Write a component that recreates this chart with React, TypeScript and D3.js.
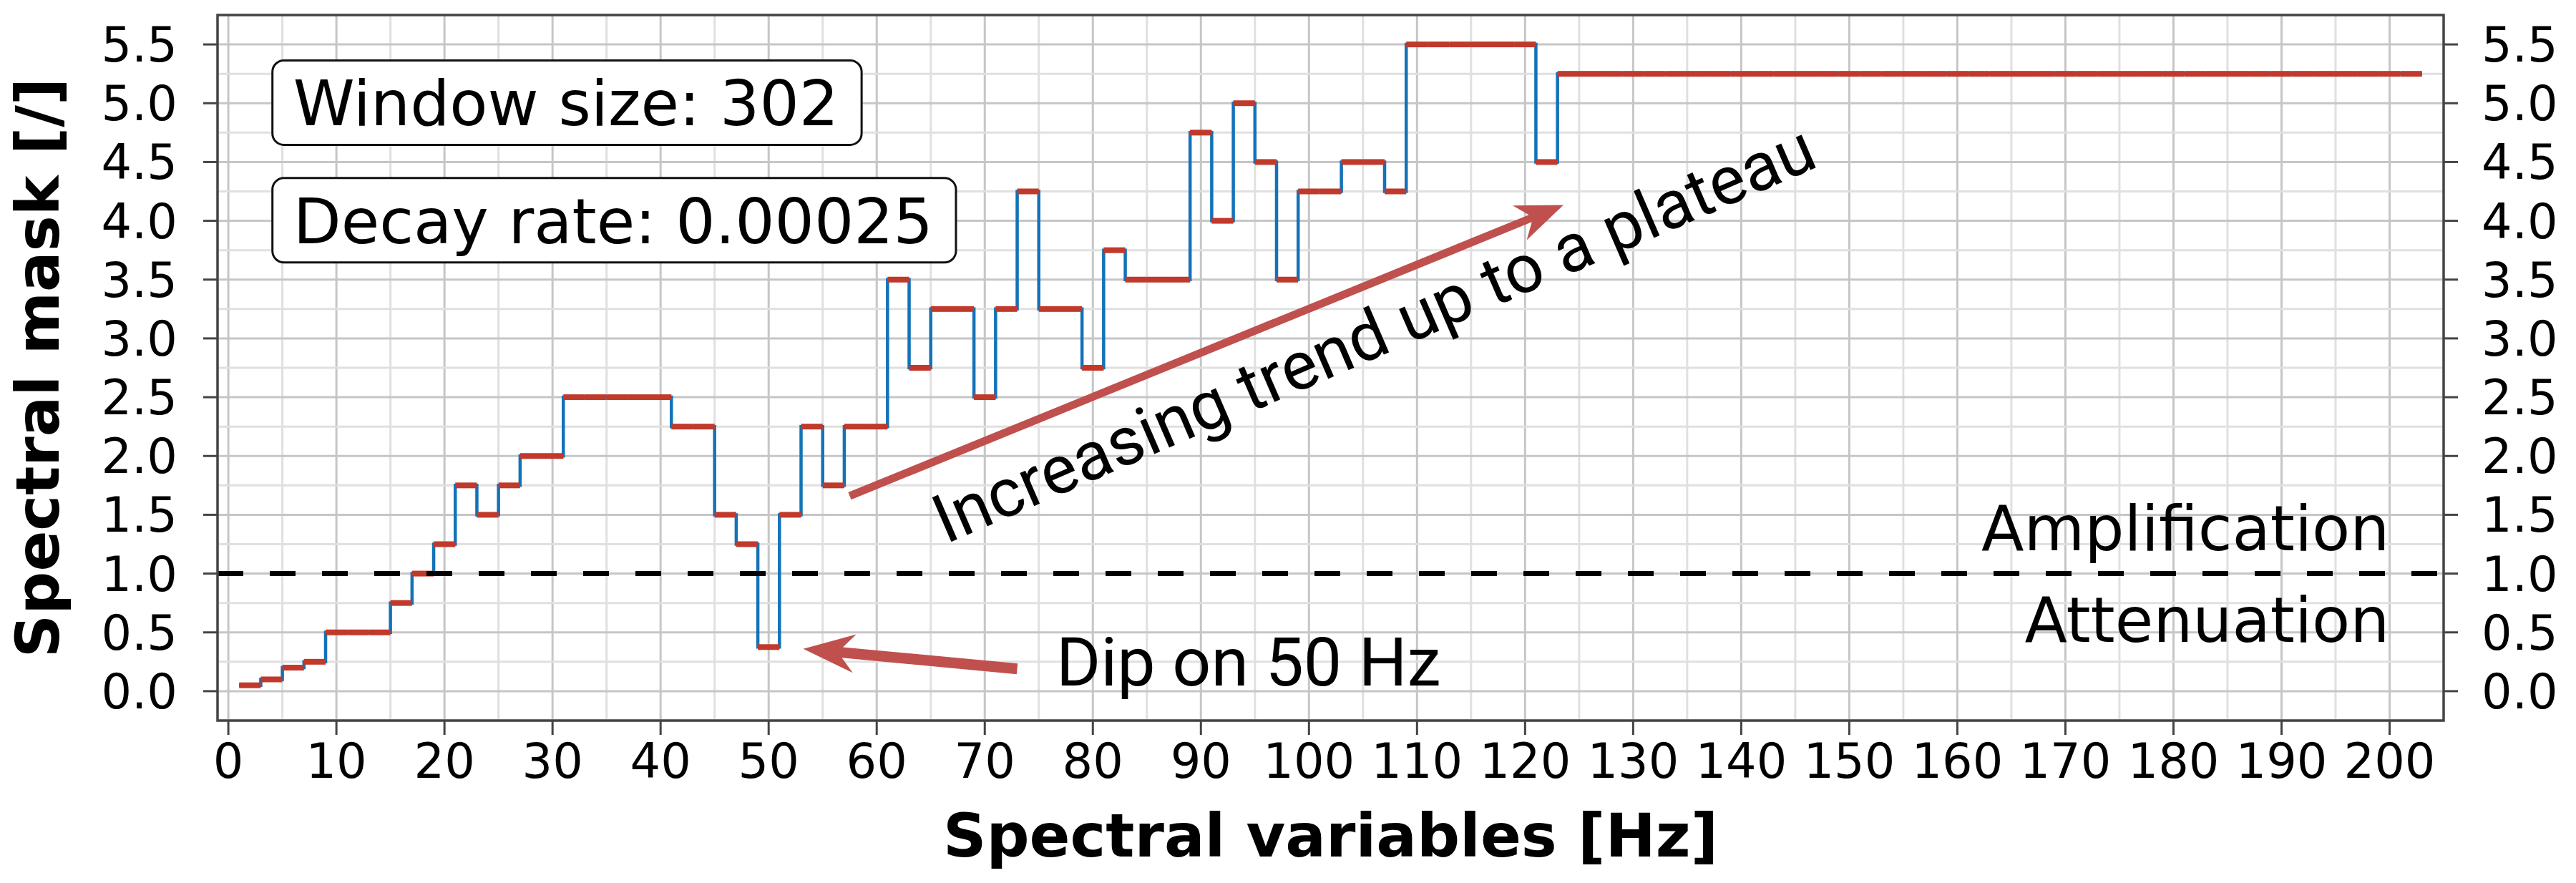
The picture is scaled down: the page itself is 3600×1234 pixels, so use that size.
import React, { useEffect, useRef } from "react";
import * as d3 from "d3";

const WIDTH = 3600;
const HEIGHT = 1234;

// spectral mask per 2 Hz bin, bins centred on 2, 4, ... 202 Hz
const maskValues = [
  0.05, 0.1, 0.2, 0.25, 0.5, 0.5, 0.5, 0.75, 1.0, 1.25,
  1.75, 1.5, 1.75, 2.0, 2.0, 2.5, 2.5, 2.5, 2.5, 2.5,
  2.25, 2.25, 1.5, 1.25, 0.375, 1.5, 2.25, 1.75, 2.25, 2.25,
  3.5, 2.75, 3.25, 3.25, 2.5, 3.25, 4.25, 3.25, 3.25, 2.75,
  3.75, 3.5, 3.5, 3.5, 4.75, 4.0, 5.0, 4.5, 3.5, 4.25,
  4.25, 4.5, 4.5, 4.25, 5.5, 5.5, 5.5, 5.5, 5.5, 5.5,
  4.5, 5.25, 5.25, 5.25, 5.25, 5.25, 5.25, 5.25, 5.25, 5.25,
  5.25, 5.25, 5.25, 5.25, 5.25, 5.25, 5.25, 5.25, 5.25, 5.25,
  5.25, 5.25, 5.25, 5.25, 5.25, 5.25, 5.25, 5.25, 5.25, 5.25,
  5.25, 5.25, 5.25, 5.25, 5.25, 5.25, 5.25, 5.25, 5.25, 5.25,
  5.25
];
const binWidth = 2;
const binCenters = maskValues.map((_, i) => 2 + i * binWidth);

const xTicks = [0, 10, 20, 30, 40, 50, 60, 70, 80, 90, 100, 110, 120, 130, 140, 150, 160, 170, 180, 190, 200];
const yTicks = [0, 0.5, 1, 1.5, 2, 2.5, 3, 3.5, 4, 4.5, 5, 5.5];
const threshold = 1.0;

// annotations, in data coordinates
const infoBoxes = [
  { text: "Window size: 302", x: 6.0, y: 4.81 },
  { text: "Decay rate: 0.00025", x: 6.0, y: 3.81 },
];
const regionLabels = [
  { text: "Amplification", x: 200, y: 1.2 },
  { text: "Attenuation", x: 200, y: 0.42 },
];
const dipArrow = { from: [73.0, 0.19], to: [53.2, 0.36], text: "Dip on 50 Hz", tx: 76.6, ty: 0.05 };
const trendArrow = { from: [57.5, 1.66], to: [123.55, 4.135], text: "Increasing trend up to a plateau", tx: 66.4, ty: 1.25, angle: -23.4 };

const BLUE = "#1372b8";
const RED = "#c0392b";
const ARROW = "#c0504d";

function arrowPath(x1, y1, x2, y2, shaft, headLen, headHalf, notch) {
  const dx = x2 - x1, dy = y2 - y1;
  const len = Math.sqrt(dx * dx + dy * dy);
  const ux = dx / len, uy = dy / len;
  const nx = -uy, ny = ux;
  const p = (a, b) => [x2 - ux * a + nx * b, y2 - uy * a + ny * b];
  const pts = [
    p(0, 0), p(headLen, headHalf), p(notch, shaft), p(len, shaft),
    p(len, -shaft), p(notch, -shaft), p(headLen, -headHalf)
  ];
  return "M" + pts.map(d => d[0] + "," + d[1]).join("L") + "Z";
}

export default function App() {
  const ref = useRef(null);

  useEffect(() => {
    const svg = d3.select(ref.current);
    svg.selectAll("*").remove();

    const left = 304, right = 3415, top = 21, bottom = 1007;
    const x = d3.scaleLinear().domain([-1, 205]).range([left, right]);
    const y = d3.scaleLinear().domain([-0.25, 5.75]).range([bottom, top]);

    svg.append("rect").attr("width", WIDTH).attr("height", HEIGHT).attr("fill", "#fff");

    // grid
    const grid = svg.append("g");
    d3.range(0, 201, 5).forEach(v => {
      grid.append("line")
        .attr("x1", x(v)).attr("x2", x(v)).attr("y1", top).attr("y2", bottom)
        .attr("stroke", v % 10 === 0 ? "#c6c6c6" : "#e0e0e0").attr("stroke-width", 3);
    });
    d3.range(-0.25, 5.76, 0.25).forEach(v => {
      const major = Math.abs(v * 2 - Math.round(v * 2)) < 1e-6;
      grid.append("line")
        .attr("x1", left).attr("x2", right).attr("y1", y(v)).attr("y2", y(v))
        .attr("stroke", major ? "#c6c6c6" : "#e0e0e0").attr("stroke-width", 3);
    });

    // step line
    const edges = binCenters.map(c => c - binWidth / 2);
    const stepPts = edges.map((e, i) => [e, maskValues[i]]);
    stepPts.push([binCenters[binCenters.length - 1] + binWidth / 2, maskValues[maskValues.length - 1]]);
    const line = d3.line().x(d => x(d[0])).y(d => y(d[1])).curve(d3.curveStepAfter);
    svg.append("path").attr("d", line(stepPts)).attr("fill", "none")
      .attr("stroke", BLUE).attr("stroke-width", 4.5);

    // red bin segments
    svg.append("g").selectAll("line").data(maskValues).enter().append("line")
      .attr("x1", (d, i) => x(binCenters[i] - binWidth / 2))
      .attr("x2", (d, i) => x(binCenters[i] + binWidth / 2))
      .attr("y1", d => y(d)).attr("y2", d => y(d))
      .attr("stroke", RED).attr("stroke-width", 8);

    // threshold
    svg.append("line")
      .attr("x1", left).attr("x2", right).attr("y1", y(threshold)).attr("y2", y(threshold))
      .attr("stroke", "#000").attr("stroke-width", 7).attr("stroke-dasharray", "36 37");

    // spines
    svg.append("rect").attr("x", left).attr("y", top).attr("width", right - left).attr("height", bottom - top)
      .attr("fill", "none").attr("stroke", "#444").attr("stroke-width", 3.5);

    const tickFont = "'DejaVu Sans', sans-serif";
    // x ticks
    const xt = svg.append("g");
    xTicks.forEach(v => {
      xt.append("line").attr("x1", x(v)).attr("x2", x(v)).attr("y1", bottom).attr("y2", bottom + 20)
        .attr("stroke", "#444").attr("stroke-width", 3);
      xt.append("text").attr("x", x(v)).attr("y", bottom + 80).attr("text-anchor", "middle")
        .attr("font-family", tickFont).attr("font-size", 67).text(String(v));
    });
    // y ticks, both sides
    const yt = svg.append("g");
    yTicks.forEach(v => {
      yt.append("line").attr("x1", left - 20).attr("x2", left).attr("y1", y(v)).attr("y2", y(v))
        .attr("stroke", "#444").attr("stroke-width", 3);
      yt.append("line").attr("x1", right).attr("x2", right + 20).attr("y1", y(v)).attr("y2", y(v))
        .attr("stroke", "#444").attr("stroke-width", 3);
      yt.append("text").attr("x", left - 56).attr("y", y(v) + 24).attr("text-anchor", "end")
        .attr("font-family", tickFont).attr("font-size", 67).text(v.toFixed(1));
      yt.append("text").attr("x", right + 53).attr("y", y(v) + 24).attr("text-anchor", "start")
        .attr("font-family", tickFont).attr("font-size", 67).text(v.toFixed(1));
    });

    // axis titles
    svg.append("text").attr("x", (left + right) / 2).attr("y", 1197).attr("text-anchor", "middle")
      .attr("font-family", tickFont).attr("font-weight", "bold").attr("font-size", 84)
      .text("Spectral variables [Hz]");
    svg.append("text").attr("transform", "translate(82," + (top + bottom) / 2 + ") rotate(-90)")
      .attr("text-anchor", "middle")
      .attr("font-family", tickFont).attr("font-weight", "bold").attr("font-size", 84)
      .text("Spectral mask [/]");

    // info boxes
    infoBoxes.forEach(b => {
      const g = svg.append("g");
      const r = g.append("rect");
      const t = g.append("text").attr("x", x(b.x)).attr("y", y(b.y))
        .attr("font-family", tickFont).attr("font-size", 87).text(b.text);
      const w = t.node().getComputedTextLength();
      r.attr("x", x(b.x) - 29).attr("y", y(b.y) - 91).attr("width", w + 61).attr("height", 118)
        .attr("rx", 16).attr("ry", 16).attr("fill", "#fff").attr("stroke", "#111").attr("stroke-width", 3);
    });

    regionLabels.forEach(l => {
      svg.append("text").attr("x", x(l.x)).attr("y", y(l.y)).attr("text-anchor", "end")
        .attr("font-family", tickFont).attr("font-size", 87).text(l.text);
    });

    // arrows
    svg.append("path")
      .attr("d", arrowPath(x(dipArrow.from[0]), y(dipArrow.from[1]), x(dipArrow.to[0]), y(dipArrow.to[1]), 7.5, 72, 27, 55))
      .attr("fill", ARROW);
    svg.append("text").attr("x", x(dipArrow.tx)).attr("y", y(dipArrow.ty))
      .attr("font-family", "Roboto, sans-serif").attr("font-size", 95).text(dipArrow.text);

    svg.append("path")
      .attr("d", arrowPath(x(trendArrow.from[0]), y(trendArrow.from[1]), x(trendArrow.to[0]), y(trendArrow.to[1]), 5.5, 66, 26, 50))
      .attr("fill", ARROW);
    svg.append("text")
      .attr("transform", "translate(" + x(trendArrow.tx) + "," + y(trendArrow.ty) + ") rotate(" + trendArrow.angle + ")")
      .attr("font-family", "Roboto, sans-serif").attr("font-size", 95).text(trendArrow.text);
  }, []);

  return (
    <svg ref={ref} width={WIDTH} height={HEIGHT} viewBox={"0 0 " + WIDTH + " " + HEIGHT}
      style={{ position: "absolute", left: 0, top: 0, display: "block" }} />
  );
}
